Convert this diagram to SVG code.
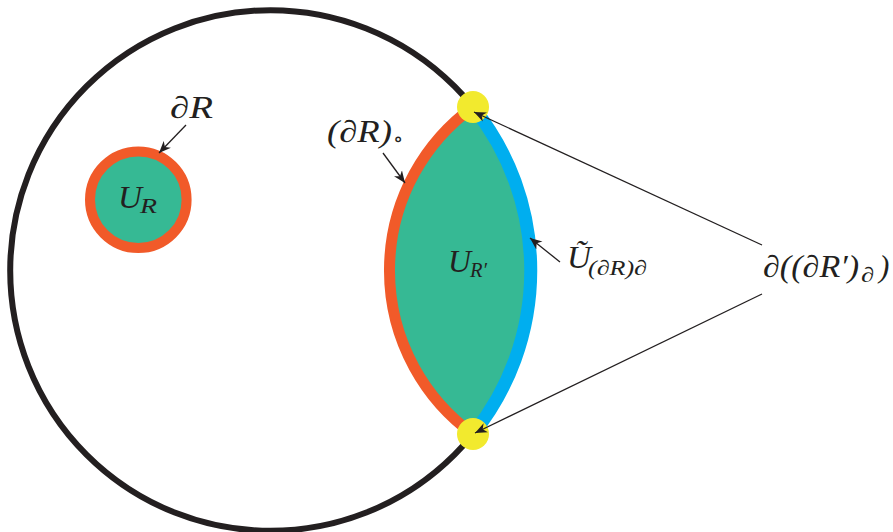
<svg xmlns="http://www.w3.org/2000/svg" width="893" height="532" viewBox="0 0 893 532">
<style>
.m{font-family:"Liberation Serif","DejaVu Serif",serif;font-style:italic;fill:#231F20;font-size:31px}
.s{font-size:21px}
.u{font-style:normal}
.ar{stroke:#231F20;stroke-width:1.3;fill:none;marker-end:url(#ah)}
</style>
<defs>
<marker id="ah" viewBox="-12 -6 13 12" refX="0" refY="0" markerWidth="13" markerHeight="12" markerUnits="userSpaceOnUse" orient="auto">
<path d="M0,0 L-12,-5 L-8.5,0 L-12,5 Z" fill="#231F20"/>
</marker>
</defs>
<g id="outer">
<circle cx="270.5" cy="270.5" r="260.3" fill="none" stroke="#231F20" stroke-width="6"/>
</g>
<g id="lens">
<path d="M473,107 A201.8,201.8 0 0 0 473,434 A260.3,260.3 0 0 0 473,107 Z" fill="#36B994"/>
<path d="M473,107 A201.8,201.8 0 0 0 473,434" fill="none" stroke="#F15A29" stroke-width="11"/>
<path d="M473,434 A260.3,260.3 0 0 0 473,107" fill="none" stroke="#00AEEF" stroke-width="13"/>
</g>
<g id="dots">
<circle cx="473" cy="107" r="16" fill="#F2EA2E"/>
<circle cx="473" cy="434" r="16" fill="#F2EA2E"/>
</g>
<g id="small">
<circle cx="138.3" cy="199.7" r="48.3" fill="#36B994" stroke="#F15A29" stroke-width="10"/>
</g>
<g id="connectors">
<line class="ar" x1="186" y1="125" x2="159" y2="153"/>
<line class="ar" x1="383" y1="153" x2="405" y2="183"/>
<line class="ar" x1="560" y1="262" x2="530" y2="238"/>
<line class="ar" x1="762" y1="245" x2="474" y2="112"/>
<line class="ar" x1="762" y1="294" x2="475" y2="433"/>
</g>
<g id="labels">
<text class="m" x="170" y="118" textLength="43" lengthAdjust="spacingAndGlyphs">∂R</text>
<text class="m" x="118" y="208" textLength="24" lengthAdjust="spacingAndGlyphs">U</text>
<text class="m s" x="140" y="213" textLength="17" lengthAdjust="spacingAndGlyphs">R</text>
<text class="m" x="327" y="142" textLength="65" lengthAdjust="spacingAndGlyphs">(∂R)</text>
<text class="m s u" x="393" y="146" font-family="DejaVu Sans">∘</text>
<text class="m" x="448" y="272" textLength="23" lengthAdjust="spacingAndGlyphs">U</text>
<text class="m s" x="470" y="277" textLength="17" lengthAdjust="spacingAndGlyphs">R′</text>
<text class="m" x="567" y="268" textLength="24" lengthAdjust="spacingAndGlyphs">Ũ</text>
<text class="m s" x="588" y="275" textLength="59" lengthAdjust="spacingAndGlyphs">(∂R)∂</text>
<text class="m" x="763" y="277" textLength="96" lengthAdjust="spacingAndGlyphs">∂((∂R′)</text>
<text class="m s" x="861" y="282" textLength="13" lengthAdjust="spacingAndGlyphs">∂</text>
<text class="m" x="879" y="277">)</text>
</g>
</svg>
